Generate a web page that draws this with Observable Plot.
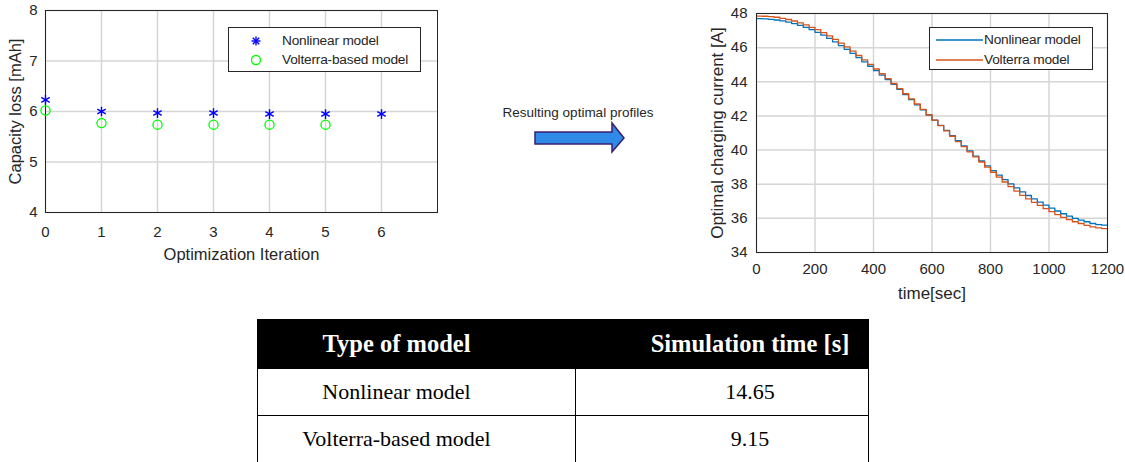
<!DOCTYPE html>
<html>
<head>
<meta charset="utf-8">
<script src="https://cdn.jsdelivr.net/npm/d3@7"></script>
<script src="https://cdn.jsdelivr.net/npm/@observablehq/plot@0.6"></script>
<style>
  html, body { margin: 0; padding: 0; background: #fff; }
  #page { position: relative; width: 1125px; height: 462px; overflow: hidden; background: #fff; font-family: "Liberation Sans", Arial, sans-serif; color: #262626; }
  .abs { position: absolute; }
  .legend { position: absolute; border: 1px solid #262626; background: #fff; box-sizing: border-box; }
  .legend .item { position: absolute; font-size: 13.7px; letter-spacing: -0.2px; white-space: nowrap; line-height: 1; }
  table.sim { position: absolute; border-collapse: collapse; font-family: "Liberation Serif", "Times New Roman", serif; color: #000; table-layout: fixed; }
  table.sim th { background: #000; color: #fff; font-weight: bold; font-size: 24.5px; height: 48px; border: 1.5px solid #000; padding: 0; }
  table.sim td { font-size: 22px; text-align: center; border: 1.5px solid #000; padding: 0; height: 46px; }
</style>
</head>
<body>
<div id="page">
  <div id="left" class="abs" style="left:0;top:0"></div>
  <div id="right" class="abs" style="left:690px;top:0"></div>
  <div id="legendLeft" class="legend" style="left:228px;top:27px;width:193px;height:45px"></div>
  <div id="legendRight" class="legend" style="left:929px;top:27px;width:164px;height:43px"></div>
  <div id="arrowText" class="abs" style="left:498px;top:105px;width:160px;text-align:center;font-size:13.5px;white-space:nowrap"></div>
  <svg class="abs" style="left:530px;top:118px" width="100" height="40">
    <polygon points="5,14 82,14 82,5 94,20 82,34 82,26 5,26" fill="#2f8ae8" stroke="#3a1f70" stroke-width="1.5"/>
  </svg>
  <table id="simTable" class="sim" style="left:257px;top:319px;width:611px"></table>
</div>
<script>
// ---------- Left chart data ----------
const iterations = [0, 1, 2, 3, 4, 5, 6];
const nonlinearLoss = [6.23, 6.00, 5.97, 5.97, 5.95, 5.95, 5.95];
const volterraIterations = [0, 1, 2, 3, 4, 5];
const volterraLoss = [6.02, 5.77, 5.74, 5.74, 5.74, 5.74];
const lossTicks = [4, 5, 6, 7, 8];

// ---------- Right chart data ----------
const timeSec = [0, 20, 40, 60, 80, 100, 120, 140, 160, 180, 200, 220, 240, 260, 280, 300, 320, 340, 360, 380,
  400, 420, 440, 460, 480, 500, 520, 540, 560, 580, 600, 620, 640, 660, 680, 700, 720, 740, 760, 780,
  800, 820, 840, 860, 880, 900, 920, 940, 960, 980, 1000, 1020, 1040, 1060, 1080, 1100, 1120, 1140, 1160, 1180, 1200];
const nonlinearCurrent = [47.70, 47.68, 47.66, 47.62, 47.57, 47.50, 47.41, 47.31, 47.19, 47.05,
  46.90, 46.73, 46.54, 46.34, 46.12, 45.90, 45.66, 45.42, 45.17, 44.91,
  44.65, 44.39, 44.13, 43.85, 43.55, 43.25, 42.95, 42.65, 42.35, 42.05,
  41.75, 41.45, 41.15, 40.85, 40.55, 40.25, 39.95, 39.65, 39.36, 39.08,
  38.80, 38.53, 38.27, 38.02, 37.78, 37.55, 37.34, 37.14, 36.95, 36.77,
  36.60, 36.43, 36.27, 36.13, 36.00, 35.90, 35.80, 35.70, 35.63, 35.60, 35.60];
const volterraCurrent = [47.85, 47.84, 47.82, 47.78, 47.72, 47.65, 47.56, 47.45, 47.33, 47.19,
  47.05, 46.88, 46.69, 46.49, 46.27, 46.05, 45.80, 45.54, 45.28, 45.02,
  44.75, 44.47, 44.19, 43.90, 43.60, 43.30, 43.00, 42.70, 42.38, 42.07,
  41.75, 41.43, 41.12, 40.81, 40.50, 40.20, 39.90, 39.60, 39.30, 39.00,
  38.70, 38.41, 38.13, 37.86, 37.60, 37.35, 37.14, 36.94, 36.76, 36.57,
  36.40, 36.22, 36.06, 35.92, 35.80, 35.70, 35.59, 35.50, 35.44, 35.40, 35.40];
const timeTicks = [0, 200, 400, 600, 800, 1000, 1200];
const currentTicks = [34, 36, 38, 40, 42, 44, 46, 48];

// ---------- Table data ----------
const tableHeaders = ["Type of model", "Simulation time [s]"];
const tableModels = ["Nonlinear model", "Volterra-based model"];
const tableTimes = ["14.65", "9.15"];

// ---------- Texts ----------
const leftSeries = ["Nonlinear model", "Volterra-based model"];
const rightSeries = ["Nonlinear model", "Volterra model"];
const arrowLabel = "Resulting optimal profiles";

const gridColor = "#d6d6d6";
const axisColor = "#262626";
const fmt = d => String(d);

// ---------- Left chart ----------
const nlData = iterations.map((it, i) => ({it, v: nonlinearLoss[i]}));
const vtData = volterraIterations.map((it, i) => ({it, v: volterraLoss[i]}));

const left = Plot.plot({
  width: 450, height: 265,
  marginLeft: 45, marginRight: 13, marginTop: 10, marginBottom: 53,
  style: {fontFamily: "Liberation Sans, Arial, sans-serif", fontSize: "15px", color: axisColor, background: "transparent", overflow: "visible"},
  x: {domain: [0, 7]},
  y: {domain: [4, 8]},
  marks: [
    Plot.gridX(iterations, {stroke: gridColor, strokeOpacity: 1, strokeWidth: 1.5}),
    Plot.gridY(lossTicks, {stroke: gridColor, strokeOpacity: 1, strokeWidth: 1.5}),
    Plot.frame({stroke: axisColor, strokeWidth: 1}),
    Plot.axisX(iterations, {tickSize: 0, tickPadding: 14, label: null, tickFormat: fmt, fill: axisColor}),
    Plot.axisY(lossTicks, {tickSize: 0, tickPadding: 8, label: null, tickFormat: fmt, fill: axisColor}),
    Plot.text(["Optimization Iteration"], {text: d => d, frameAnchor: "bottom", lineAnchor: "middle", textAnchor: "middle", dy: 42, fontSize: 16.5, fill: axisColor}),
    Plot.text(["Capacity loss [mAh]"], {text: d => d, frameAnchor: "left", textAnchor: "middle", lineAnchor: "middle", dx: -30, rotate: -90, fontSize: 16.5, fill: axisColor}),
    Plot.dot(vtData, {x: "it", y: "v", symbol: "circle", r: 4.6, stroke: "#00ff00", strokeWidth: 1.3, fill: "none"}),
    Plot.dot(nlData, {x: "it", y: "v", symbol: "asterisk", r: 4.6, stroke: "#0000ff", strokeWidth: 1.4})
  ]
});
document.getElementById("left").appendChild(left);

// ---------- Right chart ----------
const currData = [
  ...timeSec.map((t, i) => ({t, v: nonlinearCurrent[i], s: rightSeries[0]})),
  ...timeSec.map((t, i) => ({t, v: volterraCurrent[i], s: rightSeries[1]}))
];
const right = Plot.plot({
  width: 435, height: 300,
  marginLeft: 66, marginRight: 18, marginTop: 13, marginBottom: 48,
  style: {fontFamily: "Liberation Sans, Arial, sans-serif", fontSize: "15px", color: axisColor, background: "transparent", overflow: "visible"},
  x: {domain: [0, 1200]},
  y: {domain: [34, 48]},
  color: {domain: rightSeries, range: ["#0072BD", "#D95319"]},
  marks: [
    Plot.gridX(timeTicks, {stroke: gridColor, strokeOpacity: 1, strokeWidth: 1.5}),
    Plot.gridY(currentTicks, {stroke: gridColor, strokeOpacity: 1, strokeWidth: 1.5}),
    Plot.line(currData, {x: "t", y: "v", z: "s", stroke: "s", curve: "step-after", strokeWidth: 1.3}),
    Plot.frame({stroke: axisColor, strokeWidth: 1}),
    Plot.axisX(timeTicks, {tickSize: 0, tickPadding: 11, label: null, tickFormat: fmt, fill: axisColor}),
    Plot.axisY(currentTicks, {tickSize: 0, tickPadding: 9, label: null, tickFormat: fmt, fill: axisColor}),
    Plot.text(["time[sec]"], {text: d => d, frameAnchor: "bottom", lineAnchor: "middle", textAnchor: "middle", dy: 41, fontSize: 17, fill: axisColor}),
    Plot.text(["Optimal charging current [A]"], {text: d => d, frameAnchor: "left", textAnchor: "middle", lineAnchor: "middle", dx: -39, rotate: -90, fontSize: 17, fill: axisColor})
  ]
});
document.getElementById("right").appendChild(right);

// ---------- Legends ----------
const ll = document.getElementById("legendLeft");
ll.innerHTML = `
  <svg style="position:absolute;left:20px;top:6px" width="14" height="34">
    <g stroke="#0000ff" stroke-width="1.4">
      <line x1="7" y1="2.5" x2="7" y2="11.5"/><line x1="2.5" y1="7" x2="11.5" y2="7"/>
      <line x1="3.8" y1="3.8" x2="10.2" y2="10.2"/><line x1="3.8" y1="10.2" x2="10.2" y2="3.8"/>
    </g>
    <circle cx="7" cy="26" r="4.5" fill="none" stroke="#00ff00" stroke-width="1.3"/>
  </svg>
  <div class="item" style="left:53px;top:6px">${leftSeries[0]}</div>
  <div class="item" style="left:53px;top:25px">${leftSeries[1]}</div>`;
const lr = document.getElementById("legendRight");
lr.innerHTML = `
  <svg style="position:absolute;left:5px;top:0" width="50" height="43">
    <line x1="1" y1="12" x2="48" y2="12" stroke="#0072BD" stroke-width="1.4"/>
    <line x1="1" y1="32" x2="48" y2="32" stroke="#D95319" stroke-width="1.4"/>
  </svg>
  <div class="item" style="left:54px;top:5px">${rightSeries[0]}</div>
  <div class="item" style="left:54px;top:25px">${rightSeries[1]}</div>`;

document.getElementById("arrowText").textContent = arrowLabel;

// ---------- Table ----------
const tbl = document.getElementById("simTable");
tbl.innerHTML = `<colgroup><col style="width:318px"><col style="width:293px"></colgroup>` +
  `<tr>${tableHeaders.map((h, i) => `<th style="${i === 0 ? "padding-right:40px" : "padding-left:56px"}">${h}</th>`).join("")}</tr>` +
  tableModels.map((m, i) => `<tr><td style="padding-right:40px">${m}</td><td style="padding-left:56px">${tableTimes[i]}</td></tr>`).join("");
</script>
</body>
</html>
